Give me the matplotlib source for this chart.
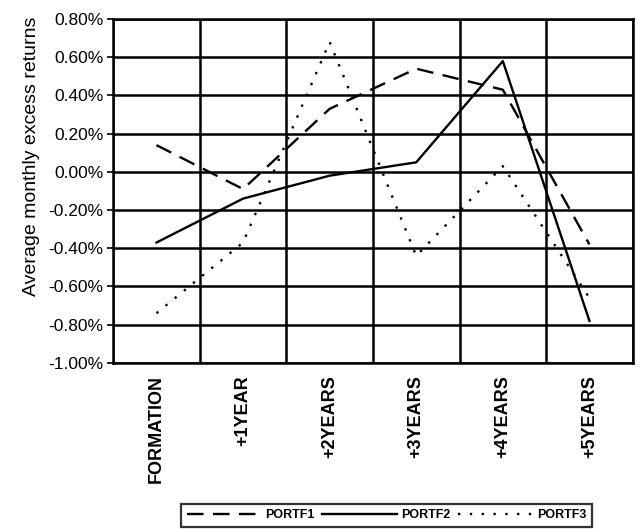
import matplotlib.pyplot as plt
import numpy as np

# categorias y series (en %)
categories = ["FORMATION", "+1YEAR", "+2YEARS", "+3YEARS", "+4YEARS", "+5YEARS"]
portf1 = [0.14, -0.09, 0.33, 0.54, 0.43, -0.38]
portf2 = [-0.37, -0.14, -0.02, 0.05, 0.58, -0.78]
portf3 = [-0.74, -0.37, 0.68, -0.44, 0.03, -0.66]
yticks = [-1.0, -0.8, -0.6, -0.4, -0.2, 0.0, 0.2, 0.4, 0.6, 0.8]

plt.rcParams['font.family'] = ['Liberation Sans', 'DejaVu Sans']

fig = plt.figure(figsize=[6.43, 5.29], dpi=100)
ax = fig.add_axes([0.176, 0.314, 0.808, 0.650])

x = np.arange(len(categories))
ax.plot(x, portf1, color="black", lw=1.7, linestyle=(0, (7, 4)), label="PORTF1")
ax.plot(x, portf2, color="black", lw=1.7, linestyle="-", label="PORTF2")
ax.plot(x, portf3, color="black", lw=1.7, linestyle=(0, (1, 4)), label="PORTF3")

ax.set_xlim(-0.5, len(categories) - 0.5)
ax.set_ylim(-1.0, 0.8)
ax.set_yticks(yticks)
ax.set_yticklabels([f"{v:.2f}%" for v in yticks], fontsize=12.5)
ax.set_xticks(x)
ax.set_xticklabels(categories, rotation=90, fontsize=13, fontweight="bold")
ax.tick_params(axis="x", length=0, pad=9)
ax.tick_params(axis="y", length=4, width=1.2, direction="out", pad=3)

# cuadricula estilo Excel: verticales en los limites de categoria
ax.set_xticks(np.arange(-0.5, len(categories)), minor=True)
ax.tick_params(axis="x", which="minor", length=0)
ax.grid(True, axis="y", color="black", lw=1.8)
ax.grid(True, axis="x", which="minor", color="black", lw=1.8)
ax.set_axisbelow(True)
for s in ax.spines.values():
    s.set_linewidth(1.8)

ax.set_ylabel("Average monthly excess returns", fontsize=14)
ax.yaxis.set_label_coords(-0.14, 0.6)

leg = fig.legend(loc="center", bbox_to_anchor=(0.601, 0.026), ncol=3,
                 frameon=True, fancybox=False, edgecolor="black",
                 prop={"size": 9, "weight": "bold"}, handlelength=6,
                 columnspacing=0.6, handletextpad=0.3, borderpad=0.45)
leg.get_frame().set_linewidth(1.6)

fig.savefig("out.png", dpi=100)
